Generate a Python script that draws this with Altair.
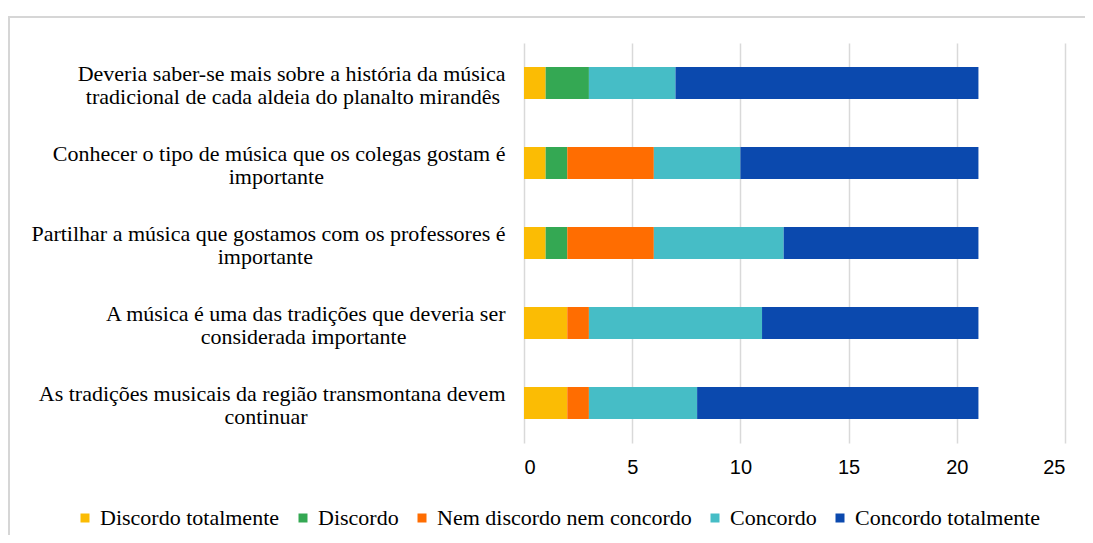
import altair as alt
import pandas as pd

NB = "\u00a0"
END = "\u200b"

statements = [
    "Deveria saber-se mais sobre a história da música|tradicional de cada aldeia do planalto mirandês" + NB * 1 + END,
    "Conhecer o tipo de música que os colegas gostam é|importante" + NB * 33 + END,
    "Partilhar a música que gostamos com os professores é|importante" + NB * 35 + END,
    "A música é uma das tradições que deveria ser|considerada importante" + NB * 18 + END,
    "As tradições musicais da região transmontana devem|continuar" + NB * 36 + END,
]

responses = [
    "Discordo totalmente",
    "Discordo",
    "Nem discordo nem concordo",
    "Concordo",
    "Concordo totalmente",
]

colors = ["#FBBC04", "#34A853", "#FF6D01", "#46BDC6", "#0B49AE"]

discordo_totalmente = [1, 1, 1, 2, 2]
discordo = [2, 1, 1, 0, 0]
nem = [0, 4, 4, 1, 1]
concordo = [4, 4, 6, 8, 5]
concordo_totalmente = [14, 11, 9, 10, 13]

series = [discordo_totalmente, discordo, nem, concordo, concordo_totalmente]

SERIF = "Liberation Serif, Times New Roman, DejaVu Serif, serif"

rows = []
for ri, (resp, vals) in enumerate(zip(responses, series)):
    for si, (st, v) in enumerate(zip(statements, vals)):
        rows.append({"statement": st, "response": resp, "value": v, "order": ri})
df = pd.DataFrame(rows)

bars = alt.Chart(df).mark_bar().encode(
    y=alt.Y(
        "statement:N",
        sort=statements,
        title=None,
        scale=alt.Scale(paddingInner=0.6, paddingOuter=0.3),
        axis=alt.Axis(
            labelExpr="split(datum.label, '|')",
            labelAlign="right",
            labelBaseline="middle",
            labelFont=SERIF,
            labelFontSize=22,
            labelLineHeight=23,
            labelColor="#000000",
            labelPadding=19,
            labelOffset=-9,
            ticks=False,
            domain=False,
            grid=False,
            labelLimit=0,
        ),
    ),
    x=alt.X(
        "value:Q",
        stack="zero",
        title=None,
        scale=alt.Scale(domain=[0, 25]),
        axis=alt.Axis(
            values=[0, 5, 10, 15, 20, 25],
            grid=True,
            gridColor="#D9D9D9",
            gridWidth=1.5,
            ticks=False,
            domain=False,
            labelFont="Liberation Sans, Arial, sans-serif",
            labelFontSize=20,
            labelColor="#000000",
            labelPadding=14,
        ),
    ),
    color=alt.Color(
        "response:N",
        sort=responses,
        scale=alt.Scale(domain=responses, range=colors),
        legend=alt.Legend(
            title=None,
            orient="none",
            legendX=-450,
            legendY=464,
            direction="horizontal",
            columns=5,
            padding=0,
            symbolType="square",
            symbolSize=81,
            symbolStrokeWidth=0,
            labelFont=SERIF,
            labelFontSize=22,
            labelColor="#000000",
            labelOffset=4,
            columnPadding=12,
            labelLimit=0,
        ),
    ),
    order=alt.Order("order:Q"),
)

frame = alt.Chart(pd.DataFrame({"f": [0]})).mark_rect(
    fill=None, stroke="#D6D6D6", strokeWidth=2
).encode(
    x=alt.value(-515),
    x2=alt.value(700),
    y=alt.value(-26),
    y2=alt.value(700),
)

chart = alt.layer(frame, bars).properties(
    width=541,
    height=400,
    autosize=alt.AutoSizeParams(type="none"),
    padding={"left": 516, "top": 35, "right": 20, "bottom": 92},
).configure_view(stroke=None)

chart.save("out.html", embed_options={"renderer": "svg", "actions": False})
